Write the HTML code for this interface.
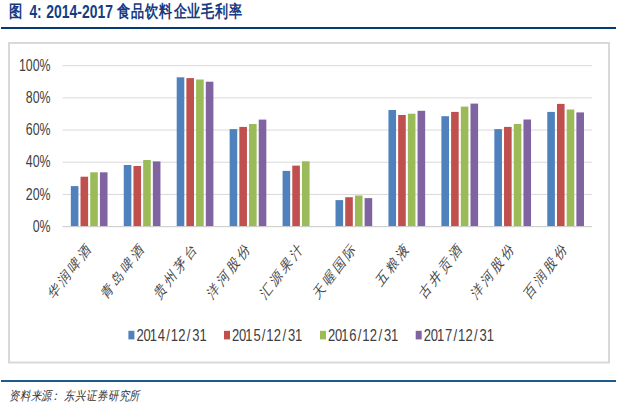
<!DOCTYPE html>
<html><head><meta charset="utf-8"><title>图 4: 2014-2017 食品饮料企业毛利率</title>
<style>
html,body{margin:0;padding:0;background:#fff;}
body{width:618px;height:407px;overflow:hidden;position:relative;font-family:"Liberation Sans",sans-serif;}
svg{position:absolute;left:0;top:0;display:block;}
svg text{font-family:"Liberation Sans",sans-serif;}
.ser{font-family:"Liberation Serif",serif;}
</style></head><body>
<svg width="618" height="407" viewBox="0 0 618 407">

<g fill="#163B82" font-weight="bold">
<text transform="scale(0.78 1)" x="20.00" y="17.3" font-size="17" text-anchor="middle">图</text>
<text x="29.4" y="17.5" font-size="17.9" textLength="12.2" lengthAdjust="spacingAndGlyphs">4:</text>
<text x="46.3" y="17.5" font-size="17.9" textLength="66.6" lengthAdjust="spacingAndGlyphs">2014-2017</text>
<text transform="scale(0.77 1)" x="160.06 178.51 196.75 215.19 233.83 251.75 269.87 287.73 306.30" y="16.6" font-size="16.6" text-anchor="middle">食品饮料企业毛利率</text>
</g>
<rect x="1" y="27" width="615" height="2" fill="#033C74"/>
<rect x="9" y="43" width="600" height="319.5" fill="#fff" stroke="#D9D9D9" stroke-width="2"/>
<rect x="62.7" y="65.20" width="529.4" height="1" fill="#D9D9D9"/>
<rect x="62.7" y="97.38" width="529.4" height="1" fill="#D9D9D9"/>
<rect x="62.7" y="129.56" width="529.4" height="1" fill="#D9D9D9"/>
<rect x="62.7" y="161.74" width="529.4" height="1" fill="#D9D9D9"/>
<rect x="62.7" y="193.92" width="529.4" height="1" fill="#D9D9D9"/>
<rect x="62.7" y="226.10" width="529.4" height="1" fill="#D9D9D9"/>
<rect x="70.82" y="186.1" width="7.6" height="40.5" fill="#4F81BD"/>
<rect x="80.52" y="176.7" width="7.6" height="49.9" fill="#C0504D"/>
<rect x="90.22" y="172.3" width="7.6" height="54.3" fill="#9BBB59"/>
<rect x="99.92" y="172.3" width="7.6" height="54.3" fill="#8064A2"/>
<rect x="123.76" y="165.0" width="7.6" height="61.6" fill="#4F81BD"/>
<rect x="133.46" y="166.0" width="7.6" height="60.6" fill="#C0504D"/>
<rect x="143.16" y="160.0" width="7.6" height="66.6" fill="#9BBB59"/>
<rect x="152.86" y="161.4" width="7.6" height="65.2" fill="#8064A2"/>
<rect x="176.70" y="77.3" width="7.6" height="149.3" fill="#4F81BD"/>
<rect x="186.40" y="78.1" width="7.6" height="148.5" fill="#C0504D"/>
<rect x="196.10" y="79.5" width="7.6" height="147.1" fill="#9BBB59"/>
<rect x="205.80" y="81.7" width="7.6" height="144.9" fill="#8064A2"/>
<rect x="229.64" y="129.1" width="7.6" height="97.5" fill="#4F81BD"/>
<rect x="239.34" y="126.9" width="7.6" height="99.7" fill="#C0504D"/>
<rect x="249.04" y="124.0" width="7.6" height="102.6" fill="#9BBB59"/>
<rect x="258.74" y="119.6" width="7.6" height="107.0" fill="#8064A2"/>
<rect x="282.58" y="170.9" width="7.6" height="55.7" fill="#4F81BD"/>
<rect x="292.28" y="165.6" width="7.6" height="61.0" fill="#C0504D"/>
<rect x="301.98" y="161.3" width="7.6" height="65.3" fill="#9BBB59"/>
<rect x="335.52" y="200.1" width="7.6" height="26.5" fill="#4F81BD"/>
<rect x="345.22" y="197.2" width="7.6" height="29.4" fill="#C0504D"/>
<rect x="354.92" y="195.5" width="7.6" height="31.1" fill="#9BBB59"/>
<rect x="364.62" y="198.1" width="7.6" height="28.5" fill="#8064A2"/>
<rect x="388.46" y="110.0" width="7.6" height="116.6" fill="#4F81BD"/>
<rect x="398.16" y="115.0" width="7.6" height="111.6" fill="#C0504D"/>
<rect x="407.86" y="113.7" width="7.6" height="112.9" fill="#9BBB59"/>
<rect x="417.56" y="110.8" width="7.6" height="115.8" fill="#8064A2"/>
<rect x="441.40" y="116.2" width="7.6" height="110.4" fill="#4F81BD"/>
<rect x="451.10" y="111.9" width="7.6" height="114.7" fill="#C0504D"/>
<rect x="460.80" y="106.6" width="7.6" height="120.0" fill="#9BBB59"/>
<rect x="470.50" y="103.6" width="7.6" height="123.0" fill="#8064A2"/>
<rect x="494.34" y="129.1" width="7.6" height="97.5" fill="#4F81BD"/>
<rect x="504.04" y="126.9" width="7.6" height="99.7" fill="#C0504D"/>
<rect x="513.74" y="124.0" width="7.6" height="102.6" fill="#9BBB59"/>
<rect x="523.44" y="119.5" width="7.6" height="107.1" fill="#8064A2"/>
<rect x="547.28" y="111.9" width="7.6" height="114.7" fill="#4F81BD"/>
<rect x="556.98" y="103.9" width="7.6" height="122.7" fill="#C0504D"/>
<rect x="566.68" y="109.5" width="7.6" height="117.1" fill="#9BBB59"/>
<rect x="576.38" y="112.4" width="7.6" height="114.2" fill="#8064A2"/>
<rect x="62.7" y="226.10" width="529.4" height="1" fill="#D0D0D0"/>
<g fill="#404040" font-size="16.4" text-anchor="end">
<text transform="translate(50.6 70.80) scale(0.755 1)">100%</text>
<text transform="translate(50.6 102.98) scale(0.755 1)">80%</text>
<text transform="translate(50.6 135.16) scale(0.755 1)">60%</text>
<text transform="translate(50.6 167.34) scale(0.755 1)">40%</text>
<text transform="translate(50.6 199.52) scale(0.755 1)">20%</text>
<text transform="translate(50.6 231.70) scale(0.755 1)">0%</text>
</g>
<g fill="#444" font-size="15.4" text-anchor="middle" dominant-baseline="central" class="ser">
<text class="ser" transform="matrix(0.527 -0.707 0.527 0.707 54.47 291.20)">华</text>
<text class="ser" transform="matrix(0.527 -0.707 0.527 0.707 64.47 278.20)">润</text>
<text class="ser" transform="matrix(0.527 -0.707 0.527 0.707 74.47 265.20)">啤</text>
<text class="ser" transform="matrix(0.527 -0.707 0.527 0.707 84.47 252.20)">酒</text>
<text class="ser" transform="matrix(0.527 -0.707 0.527 0.707 107.41 291.20)">青</text>
<text class="ser" transform="matrix(0.527 -0.707 0.527 0.707 117.41 278.20)">岛</text>
<text class="ser" transform="matrix(0.527 -0.707 0.527 0.707 127.41 265.20)">啤</text>
<text class="ser" transform="matrix(0.527 -0.707 0.527 0.707 137.41 252.20)">酒</text>
<text class="ser" transform="matrix(0.527 -0.707 0.527 0.707 160.35 291.20)">贵</text>
<text class="ser" transform="matrix(0.527 -0.707 0.527 0.707 170.35 278.20)">州</text>
<text class="ser" transform="matrix(0.527 -0.707 0.527 0.707 180.35 265.20)">茅</text>
<text class="ser" transform="matrix(0.527 -0.707 0.527 0.707 190.35 252.20)">台</text>
<text class="ser" transform="matrix(0.527 -0.707 0.527 0.707 213.29 291.20)">洋</text>
<text class="ser" transform="matrix(0.527 -0.707 0.527 0.707 223.29 278.20)">河</text>
<text class="ser" transform="matrix(0.527 -0.707 0.527 0.707 233.29 265.20)">股</text>
<text class="ser" transform="matrix(0.527 -0.707 0.527 0.707 243.29 252.20)">份</text>
<text class="ser" transform="matrix(0.527 -0.707 0.527 0.707 266.23 291.20)">汇</text>
<text class="ser" transform="matrix(0.527 -0.707 0.527 0.707 276.23 278.20)">源</text>
<text class="ser" transform="matrix(0.527 -0.707 0.527 0.707 286.23 265.20)">果</text>
<text class="ser" transform="matrix(0.527 -0.707 0.527 0.707 296.23 252.20)">汁</text>
<text class="ser" transform="matrix(0.527 -0.707 0.527 0.707 319.17 291.20)">天</text>
<text class="ser" transform="matrix(0.527 -0.707 0.527 0.707 329.17 278.20)">喔</text>
<text class="ser" transform="matrix(0.527 -0.707 0.527 0.707 339.17 265.20)">国</text>
<text class="ser" transform="matrix(0.527 -0.707 0.527 0.707 349.17 252.20)">际</text>
<text class="ser" transform="matrix(0.527 -0.707 0.527 0.707 382.11 278.20)">五</text>
<text class="ser" transform="matrix(0.527 -0.707 0.527 0.707 392.11 265.20)">粮</text>
<text class="ser" transform="matrix(0.527 -0.707 0.527 0.707 402.11 252.20)">液</text>
<text class="ser" transform="matrix(0.527 -0.707 0.527 0.707 425.05 291.20)">古</text>
<text class="ser" transform="matrix(0.527 -0.707 0.527 0.707 435.05 278.20)">井</text>
<text class="ser" transform="matrix(0.527 -0.707 0.527 0.707 445.05 265.20)">贡</text>
<text class="ser" transform="matrix(0.527 -0.707 0.527 0.707 455.05 252.20)">酒</text>
<text class="ser" transform="matrix(0.527 -0.707 0.527 0.707 477.99 291.20)">洋</text>
<text class="ser" transform="matrix(0.527 -0.707 0.527 0.707 487.99 278.20)">河</text>
<text class="ser" transform="matrix(0.527 -0.707 0.527 0.707 497.99 265.20)">股</text>
<text class="ser" transform="matrix(0.527 -0.707 0.527 0.707 507.99 252.20)">份</text>
<text class="ser" transform="matrix(0.527 -0.707 0.527 0.707 530.93 291.20)">百</text>
<text class="ser" transform="matrix(0.527 -0.707 0.527 0.707 540.93 278.20)">润</text>
<text class="ser" transform="matrix(0.527 -0.707 0.527 0.707 550.93 265.20)">股</text>
<text class="ser" transform="matrix(0.527 -0.707 0.527 0.707 560.93 252.20)">份</text>
</g>
<g fill="#404040" font-size="16.3">
<rect x="128.4" y="330.8" width="6" height="8.6" fill="#4F81BD"/>
<text transform="scale(0.8 1)" x="170.65 179.34 187.06 197.33 207.67 213.43 222.72 233.49 240.39 249.24" y="340.6">2014/12/31</text>
<rect x="224.0" y="330.8" width="6" height="8.6" fill="#C0504D"/>
<text transform="scale(0.8 1)" x="290.15 298.84 306.56 316.80 327.17 332.93 342.22 352.99 359.89 368.74" y="340.6">2015/12/31</text>
<rect x="320.0" y="330.8" width="6" height="8.6" fill="#9BBB59"/>
<text transform="scale(0.8 1)" x="410.15 418.84 426.56 436.72 447.17 452.93 462.22 472.99 479.89 488.74" y="340.6">2016/12/31</text>
<rect x="415.7" y="330.8" width="6" height="8.6" fill="#8064A2"/>
<text transform="scale(0.8 1)" x="529.78 538.47 546.18 556.40 566.80 572.56 581.84 592.61 599.52 608.37" y="340.6">2017/12/31</text>
</g>
<rect x="1" y="380" width="615" height="2" fill="#1F5A8C"/>
<text class="ser" transform="scale(0.82 1)" x="17.38 30.91 43.90 57.07 67.07 84.15 97.93 111.46 125.00 138.54 151.34 164.39" y="400.4" text-anchor="middle" font-size="12.6" font-style="italic" font-weight="500" fill="#333">资料来源：东兴证券研究所</text>
</svg>
</body></html>
